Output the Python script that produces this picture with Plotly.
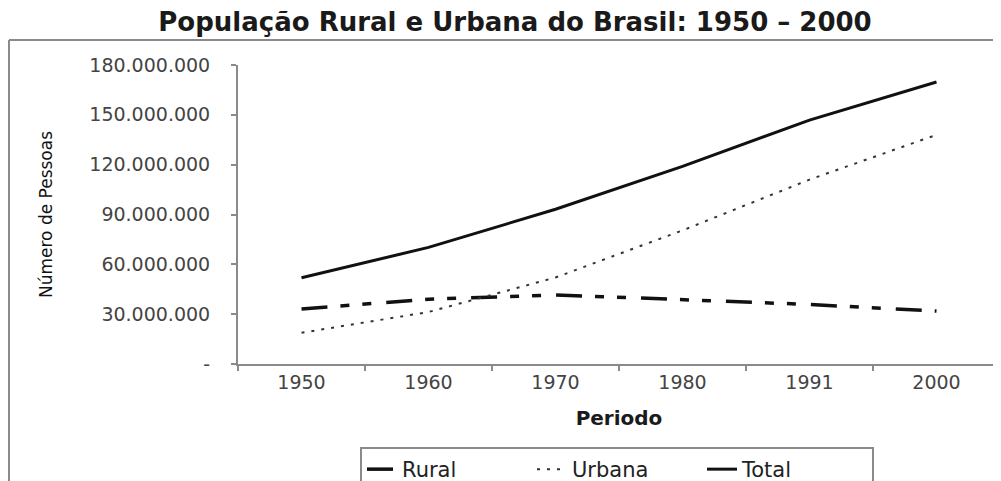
import plotly.graph_objects as go

# ---- data ----
periodos = ["1950", "1960", "1970", "1980", "1991", "2000"]
rural = [33161506, 38987526, 41603839, 38566297, 35834485, 31845211]
urbana = [18782891, 31303034, 52084984, 80436409, 110990990, 137953959]
total = [51944397, 70191370, 93139037, 119002706, 146825475, 169799170]
y_tick_vals = [0, 30000000, 60000000, 90000000, 120000000, 150000000, 180000000]
y_tick_text = ["-", "30.000.000", "60.000.000", "90.000.000", "120.000.000", "150.000.000", "180.000.000"]

# page body has an 8px margin, so the figure is 8px smaller and offset
OFF = 8
W, H = 1001 - OFF, 481 - OFF
ML, MR, MT, MB = 238 - OFF, 1, 65 - OFF, 117
PW, PH = W - ML - MR, H - MT - MB

def px_x(x):  # reference pixel -> paper x
    return (x - OFF - ML) / PW

def px_y(y):  # reference pixel -> paper y
    return (H - MB - (y - OFF)) / PH

fig = go.Figure()
fig.add_trace(go.Scatter(x=periodos, y=rural, name="Rural", mode="lines",
                         line=dict(color="#111111", width=3.5, dash="26px,13px,9px,13px,9px,15px")))
fig.add_trace(go.Scatter(x=periodos, y=urbana, name="Urbana", mode="lines",
                         line=dict(color="#333333", width=2, dash="3px,7px")))
fig.add_trace(go.Scatter(x=periodos, y=total, name="Total", mode="lines",
                         line=dict(color="#111111", width=3)))

axis_color = "#8a8a8a"
fig.update_layout(
    width=W, height=H,
    margin=dict(l=ML, r=MR, t=MT, b=MB, pad=0),
    paper_bgcolor="white", plot_bgcolor="white",
    font=dict(family="DejaVu Sans", color="#333333"),
    title=dict(text="<b>População Rural e Urbana do Brasil: 1950 – 2000</b>",
               x=(515 - OFF) / W, xref="container", xanchor="center",
               y=1 - (22 - OFF) / H, yref="container", yanchor="middle",
               font=dict(family="DejaVu Sans", size=26, color="#1a1a1a")),
    xaxis=dict(type="category", range=[-0.5, 5.5], showgrid=False, zeroline=False,
               showline=True, linecolor=axis_color, linewidth=2,
               ticks="outside", tickson="boundaries", ticklen=5, tickwidth=2, tickcolor=axis_color,
               tickfont=dict(size=19, color="#444444"),
               title=dict(text="<b>Periodo</b>", font=dict(size=20, color="#1a1a1a"), standoff=19),
               automargin=False),
    yaxis=dict(range=[0, 180000000], showgrid=False, zeroline=False,
               showline=True, linecolor=axis_color, linewidth=2,
               ticks="outside", ticklen=5, tickwidth=2, tickcolor=axis_color,
               tickvals=y_tick_vals, ticktext=y_tick_text,
               tickfont=dict(size=19, color="#444444"),
               ticklabelstandoff=17,
               title=dict(text="Número de Pessoas", font=dict(size=17, color="#111111"), standoff=32),
               automargin=False),
    showlegend=True,
    legend=dict(orientation="h", x=(617 - OFF) / W, xref="container", xanchor="center",
                y=1 - (447 - OFF) / H, yref="container", yanchor="top",
                bordercolor="#8a8a8a", borderwidth=2, bgcolor="white",
                font=dict(size=21, color="#222222"),
                entrywidth=125, itemwidth=30, tracegroupgap=0),
    shapes=[
        dict(type="line", xref="paper", yref="paper",
             x0=px_x(9), x1=1 + MR / PW, y0=px_y(40), y1=px_y(40),
             line=dict(color="#8a8a8a", width=2)),
        dict(type="line", xref="paper", yref="paper",
             x0=px_x(9), x1=px_x(9), y0=px_y(40), y1=-MB / PH,
             line=dict(color="#8a8a8a", width=2)),
    ],
)

fig.write_html("out.html")
